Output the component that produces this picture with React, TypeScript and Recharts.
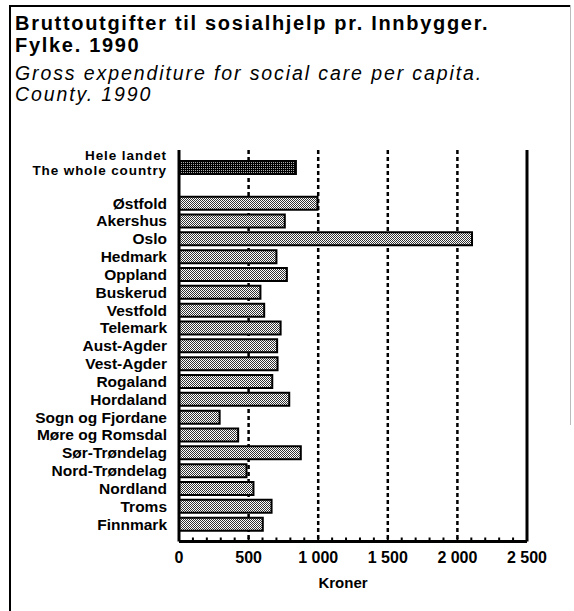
import React from "react";
import {
  BarChart,
  Bar,
  XAxis,
  YAxis,
  CartesianGrid,
  ReferenceLine,
  Cell,
} from "recharts";

// Counties, with the national total first and an empty spacer row
const counties = [
  "Hele landet",
  "",
  "Østfold",
  "Akershus",
  "Oslo",
  "Hedmark",
  "Oppland",
  "Buskerud",
  "Vestfold",
  "Telemark",
  "Aust-Agder",
  "Vest-Agder",
  "Rogaland",
  "Hordaland",
  "Sogn og Fjordane",
  "Møre og Romsdal",
  "Sør-Trøndelag",
  "Nord-Trøndelag",
  "Nordland",
  "Troms",
  "Finnmark",
];

// Kroner per capita
const kroner = [
  840, null, 995, 760, 2105, 700, 775, 585, 612, 730, 705, 708, 670, 792, 292,
  425, 875, 485, 535, 665, 602,
];

const majorTicks = [0, 500, 1000, 1500, 2000, 2500];
const gridValues = [500, 1000, 1500, 2000];
const minorTicks = Array.from({ length: 26 }, (_, i) => i * 100);

const data = counties.map((name, i) => ({ name, value: kroner[i] }));

const FONT = "'Liberation Sans', Arial, Helvetica, sans-serif";

const fmt = (v: number) =>
  v >= 1000 ? `${Math.floor(v / 1000)} ${String(v % 1000).padStart(3, "0")}` : `${v}`;

function CountyTick({ x, y, payload }: any) {
  const v = payload?.value;
  if (!v) return null;
  if (v === "Hele landet") {
    // two tight lines, like the original
    return (
      <g fontFamily={FONT} fontWeight="bold" fontSize={13.5} letterSpacing={0.9} fill="#000">
        <text x={x} y={y - 7.5} textAnchor="end">
          Hele landet
        </text>
        <text x={x} y={y + 7.5} textAnchor="end">
          The whole country
        </text>
      </g>
    );
  }
  return (
    <text x={x} y={y + 5} textAnchor="end" fontFamily={FONT} fontWeight="bold" fontSize={15.5} fill="#000">
      {v}
    </text>
  );
}

function KronerTick({ x, y, payload }: any) {
  const v = payload?.value as number;
  const isMajor = majorTicks.includes(v);
  return (
    <g>
      {v > 0 && v < 2500 && (
        <line x1={x} x2={x} y1={y} y2={y - 4} stroke="#000" strokeWidth={2} />
      )}
      {isMajor && (
        <text x={x} y={y + 21} textAnchor="middle" fontFamily={FONT} fontWeight="bold" fontSize={16} fill="#000">
          {fmt(v)}
        </text>
      )}
    </g>
  );
}

export default function App() {
  return (
    <div
      style={{
        position: "absolute",
        left: 0,
        top: 0,
        width: 574,
        height: 611,
        background: "#fff",
        overflow: "hidden",
        fontFamily: FONT,
      }}
    >
      {/* page frame */}
      <div style={{ position: "absolute", left: 9, top: 5, width: 2, height: 606, background: "#000" }} />
      <div style={{ position: "absolute", left: 9, top: 5, width: 562, height: 2, background: "#000" }} />
      <div style={{ position: "absolute", left: 570, top: 5, width: 1, height: 420, background: "#bbb" }} />

      <div
        style={{
          position: "absolute",
          left: 15,
          top: 11.8,
          fontSize: 20,
          lineHeight: "22.5px",
          fontWeight: "bold",
          letterSpacing: 1.7,
          whiteSpace: "nowrap",
        }}
      >
        Bruttoutgifter til sosialhjelp pr. Innbygger.
        <br />
        Fylke. 1990
      </div>
      <div
        style={{
          position: "absolute",
          left: 15,
          top: 62.6,
          fontSize: 19.5,
          lineHeight: "21.8px",
          fontStyle: "italic",
          letterSpacing: 1.9,
          whiteSpace: "nowrap",
        }}
      >
        Gross expenditure for social care per capita.
        <br />
        County. 1990
      </div>

      <div style={{ position: "absolute", left: 0, top: 0 }}>
        <BarChart
          width={574}
          height={611}
          data={data}
          layout="vertical"
          margin={{ top: 150, right: 47, bottom: 39.5, left: 9 }}
          barSize={13}
        >
          <defs>
            <pattern id="stipple" width="2" height="2" patternUnits="userSpaceOnUse">
              <rect width="2" height="2" fill="#fff" />
              <rect x="0" y="0" width="1" height="1" fill="#333" />
              <rect x="1" y="1" width="1" height="1" fill="#333" />
            </pattern>
            <pattern id="stippleDark" width="2" height="2" patternUnits="userSpaceOnUse">
              <rect width="2" height="2" fill="#000" />
              <rect x="1" y="0" width="1" height="1" fill="#aaa" />
            </pattern>
          </defs>
          <CartesianGrid
            horizontal={false}
            verticalValues={gridValues}
            stroke="#000"
            strokeWidth={2.5}
            strokeDasharray="4 3"
          />
          <XAxis
            type="number"
            domain={[0, 2500]}
            ticks={minorTicks}
            interval={0}
            tick={<KronerTick />}
            tickLine={false}
            tickSize={0}
            tickMargin={0}
            height={30}
            axisLine={{ stroke: "#000", strokeWidth: 3 }}
          />
          <XAxis
            xAxisId="top"
            orientation="top"
            type="number"
            domain={[0, 2500]}
            height={0}
            tick={false}
            tickLine={false}
            axisLine={{ stroke: "#000", strokeWidth: 1.5 }}
          />
          <YAxis
            type="category"
            dataKey="name"
            width={170}
            interval={0}
            padding={{ top: 9, bottom: 8 }}
            tickLine={false}
            tickSize={0}
            tickMargin={12}
            tick={<CountyTick />}
            axisLine={{ stroke: "#000", strokeWidth: 3 }}
          />
          <ReferenceLine x={2500} stroke="#000" strokeWidth={3} />
          <Bar dataKey="value" stroke="#000" strokeWidth={2} isAnimationActive={false}>
            {data.map((d, i) => (
              <Cell key={i} fill={d.name === "Hele landet" ? "url(#stippleDark)" : "url(#stipple)"} />
            ))}
          </Bar>
        </BarChart>
      </div>

      <div
        style={{
          position: "absolute",
          left: 343,
          top: 574,
          transform: "translateX(-50%)",
          fontSize: 15,
          fontWeight: "bold",
          whiteSpace: "nowrap",
        }}
      >
        Kroner
      </div>
    </div>
  );
}
